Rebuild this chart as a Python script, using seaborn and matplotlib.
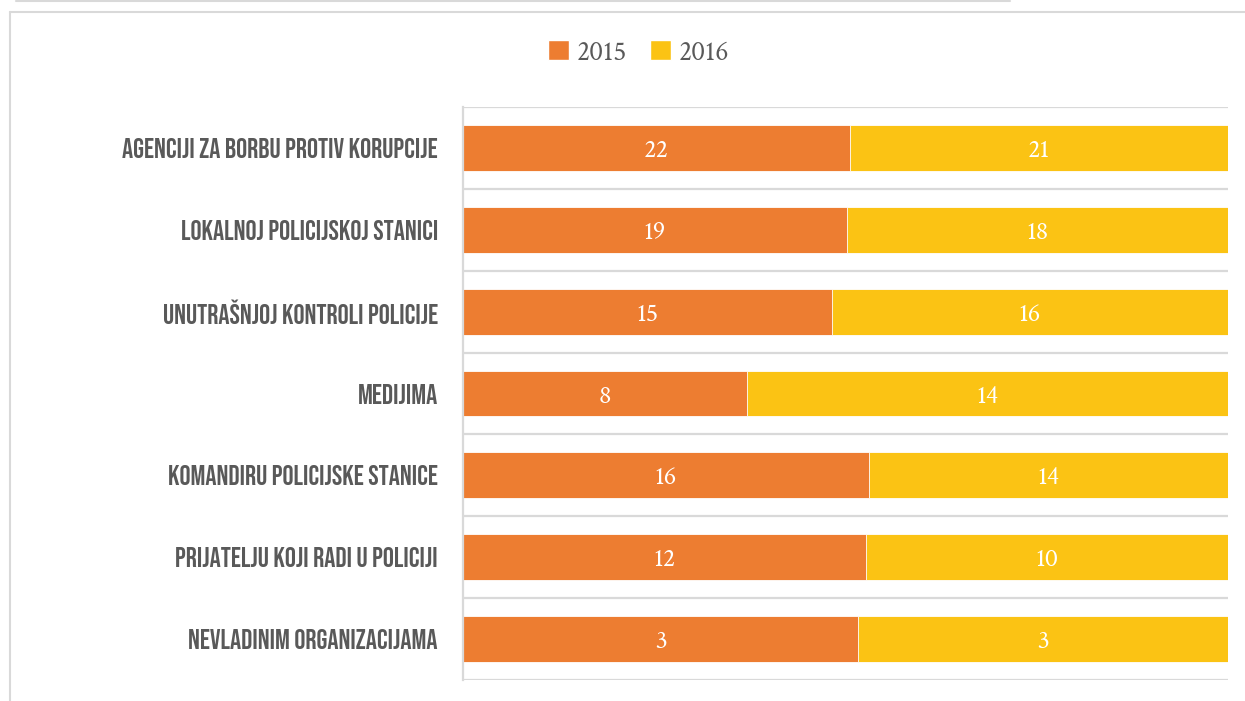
"""Stacked 100% horizontal bars: where corruption would be reported, 2015 vs 2016."""

import matplotlib
matplotlib.use("Agg")
import matplotlib.pyplot as plt
from matplotlib.lines import Line2D
from matplotlib.patches import Patch
import pandas as pd
import seaborn as sns

# ─────────────────────────────────────────────────────────────
# DATA  (labels show them rounded)
# ─────────────────────────────────────────────────────────────
CATEGORIES = [
    "AGENCIJI ZA BORBU PROTIV KORUPCIJE",
    "LOKALNOJ POLICIJSKOJ STANICI",
    "UNUTRAŠNJOJ KONTROLI POLICIJE",
    "MEDIJIMA",
    "KOMANDIRU POLICIJSKE STANICE",
    "PRIJATELJU KOJI RADI U POLICIJI",
    "NEVLADINIM ORGANIZACIJAMA",
]
VALUES_2015 = [21.8, 18.6, 15.0, 8.4, 15.6, 11.6, 3.1]
VALUES_2016 = [21.3, 18.5, 16.1, 14.2, 13.8, 10.4, 2.9]
SERIES = ["2015", "2016"]

COLOR_2015 = "#ED7D31"
COLOR_2016 = "#FBC314"
GRID = "#D9D9D9"
TEXT = "#595959"

LABEL_FONT = ["Bebas Neue", "Oswald", "IBM Plex Sans Condensed", "DejaVu Sans"]
NUM_FONT = ["Crimson Text", "Liberation Serif", "DejaVu Serif"]

# ─────────────────────────────────────────────────────────────
# SHARES (100% stacked)
# ─────────────────────────────────────────────────────────────
df = pd.DataFrame({"cat": CATEGORIES, "v15": VALUES_2015, "v16": VALUES_2016})
df["s15"] = df["v15"] / (df["v15"] + df["v16"])
df["full"] = 1.0

sns.set_style("white")
fig = plt.figure(figsize=(12.45, 7.01), dpi=100)
ax = fig.add_axes([463 / 1245, 1 - 680 / 701, (1228 - 463) / 1245, (680 - 107) / 701])

# full bar in 2016 colour, 2015 share drawn on top
sns.barplot(data=df, x="full", y="cat", orient="h", color=COLOR_2016,
            width=0.56, saturation=1, ax=ax, edgecolor="white", linewidth=0.6)
sns.barplot(data=df, x="s15", y="cat", orient="h", color=COLOR_2015,
            width=0.56, saturation=1, ax=ax, edgecolor="white", linewidth=0.6)

ax.set_xlim(0, 1)
ax.set_ylim(len(CATEGORIES) - 0.5, -0.5)
ax.set_xlabel("")
ax.set_ylabel("")
ax.set_xticks([])

# category separators
for k in range(len(CATEGORIES) + 1):
    ax.axhline(k - 0.5, color=GRID, lw=1.6, zorder=0)
for side in ["top", "right", "bottom"]:
    ax.spines[side].set_visible(False)
ax.spines["left"].set_color(GRID)
ax.spines["left"].set_linewidth(1.6)

ax.set_yticks(range(len(CATEGORIES)))
ax.set_yticklabels(CATEGORIES, fontsize=20, color=TEXT, family=LABEL_FONT)
ax.tick_params(axis="y", length=0, pad=18)

# value labels
for i, row in df.iterrows():
    ax.text(row["s15"] / 2, i + 0.04, f"{row['v15']:.0f}", ha="center", va="center",
            color="white", fontsize=19, family=NUM_FONT)
    ax.text(row["s15"] + (1 - row["s15"]) / 2, i + 0.04, f"{row['v16']:.0f}",
            ha="center", va="center", color="white", fontsize=19, family=NUM_FONT)

# legend
handles = [Patch(facecolor=COLOR_2015), Patch(facecolor=COLOR_2016)]
fig.legend(handles, SERIES, loc="center", bbox_to_anchor=(0.513, 0.925),
           ncol=2, frameon=False, handlelength=0.75, handleheight=0.75,
           handletextpad=0.3, columnspacing=0.8,
           prop={"family": NUM_FONT, "size": 20}, labelcolor=TEXT)

# outer chart frame lines
fig.add_artist(Line2D([10 / 1245, 1.0], [1 - 12 / 701] * 2, color=GRID, lw=1.5))
fig.add_artist(Line2D([10 / 1245] * 2, [0, 1 - 12 / 701], color=GRID, lw=1.5))
fig.add_artist(Line2D([16 / 1245, 1010 / 1245], [1 - 1 / 701] * 2, color=GRID, lw=1.5))

fig.savefig("out.png", dpi=100)
